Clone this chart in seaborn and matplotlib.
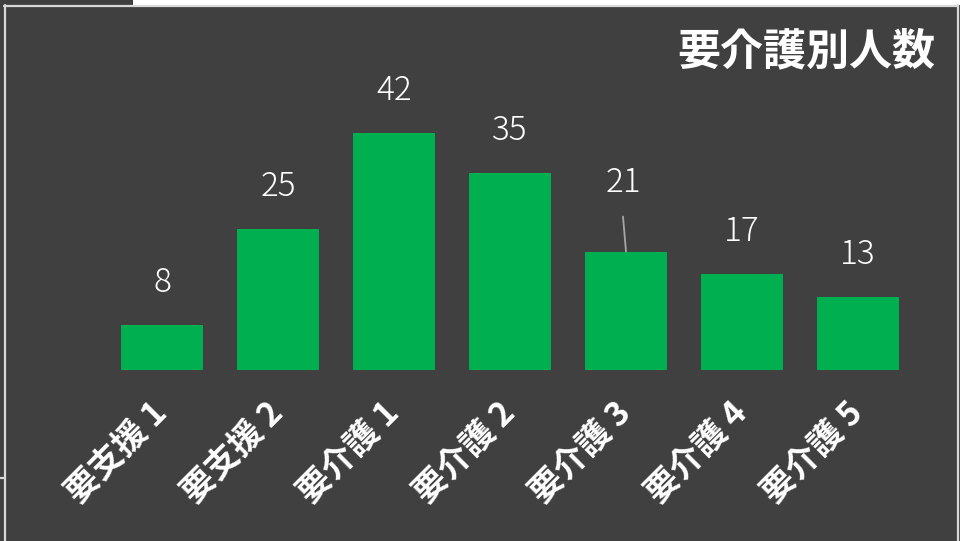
import matplotlib
matplotlib.use("Agg")
import matplotlib.pyplot as plt
import seaborn as sns
import pandas as pd
from matplotlib.patches import Rectangle
from matplotlib.lines import Line2D

categories = ["要支援 1", "要支援 2", "要介護 1", "要介護 2", "要介護 3", "要介護 4", "要介護 5"]
values = [8, 25, 42, 35, 21, 17, 13]
title = "要介護別人数"

BG = "#404040"
GREEN = "#00B050"

sns.set_theme(style="white")
plt.rcParams["font.family"] = ["Noto Sans CJK JP", "DejaVu Sans"]

W, H = 960, 541
fig = plt.figure(figsize=(9.6, 5.41), dpi=100, facecolor=BG)
ax = fig.add_axes([104 / W, (H - 370) / H, 812 / W, 282 / H])
ax.set_facecolor(BG)

df = pd.DataFrame({"cat": categories, "val": values})
sns.barplot(data=df, x="cat", y="val", color=GREEN, saturation=1, width=0.707,
            linewidth=0, edgecolor=GREEN, ax=ax)

ax.set_xlim(-0.5, len(categories) - 0.5)
ax.set_ylim(0, 50)
for s in ax.spines.values():
    s.set_visible(False)
ax.set_yticks([])
ax.set_xlabel("")
ax.set_ylabel("")
ax.tick_params(axis="x", length=0, pad=27, colors="white")
for lab in ax.get_xticklabels():
    lab.set_rotation(45)
    lab.set_ha("right")
    lab.set_va("center")
    lab.set_rotation_mode("anchor")
    lab.set_fontsize(24)
    lab.set_fontweight("bold")
    lab.set_color("white")

for i, v in enumerate(values):
    if v == 21:
        ax.annotate(str(v), xy=(i, v), xytext=(-3, 69), textcoords="offset pixels",
                    ha="center", va="center", color="white", fontsize=24,
                    fontweight="light")
        ax.annotate("", xy=(i, v), xytext=(-3, 35), textcoords="offset pixels",
                    arrowprops=dict(arrowstyle="-", color="#A6A6A6", lw=1.3,
                                    shrinkA=0, shrinkB=0))
    else:
        ax.annotate(str(v), xy=(i, v), xytext=(0, 42), textcoords="offset pixels",
                    ha="center", va="center", color="white", fontsize=24,
                    fontweight="light")

fig.text(935 / W, 1 - 51 / H, title, ha="right", va="center", color="white",
         fontsize=31, fontweight="bold")

# slide frame decorations
fig.add_artist(Rectangle((133 / W, 1 - 5 / H), (W - 133) / W, 5 / H,
                         transform=fig.transFigure, color="white", lw=0))
lc = "#D9D9D9"
fig.add_artist(Line2D([4 / W, 958 / W], [1 - 5.5 / H, 1 - 5.5 / H], color=lc, lw=1.6, transform=fig.transFigure))
fig.add_artist(Line2D([4.5 / W, 4.5 / W], [0, 1 - 5 / H], color=lc, lw=1.6, transform=fig.transFigure))
fig.add_artist(Line2D([958 / W, 958 / W], [0, 1 - 5 / H], color=lc, lw=1.6, transform=fig.transFigure))
fig.add_artist(Line2D([0, 4 / W], [1 - 478 / H, 1 - 478 / H], color=lc, lw=1.6, transform=fig.transFigure))

fig.savefig("out.png", dpi=100, facecolor=BG)
